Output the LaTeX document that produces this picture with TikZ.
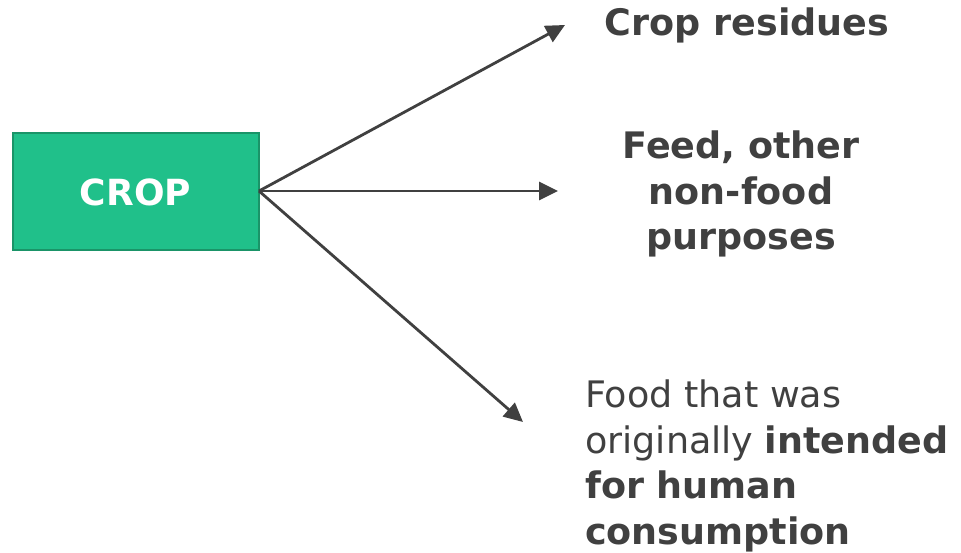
\documentclass[tikz,border=0pt]{standalone}
\usepackage{fontspec}
\setmainfont{DejaVu Sans}
\usetikzlibrary{arrows.meta, positioning}
\definecolor{cropgreen}{HTML}{20C08A}
\definecolor{cropedge}{HTML}{1A9468}
\definecolor{textgray}{HTML}{404040}

\begin{document}
\begin{tikzpicture}[
x=1pt, y=-1pt,
box/.style={rectangle, draw=cropedge, line width=2pt, fill=cropgreen, text=white, font=\fontsize{36}{44}\selectfont\bfseries, minimum width=246pt, minimum height=117pt},
label/.style={text=textgray, font=\fontsize{36.5}{45.5}\selectfont, inner sep=0pt},
line/.style={-{Triangle[length=19pt, width=18pt]}, line width=2.8pt, draw=textgray}
]
\useasboundingbox (0,0) rectangle (961,553);
\node[box] (crop) at (135.5,192) {CROP};
\coordinate (fork) at (259,191);
\coordinate (tresidue) at (565,25);
\coordinate (tfeed) at (558,191);
\coordinate (tfood) at (523,422);
\node[label, font=\fontsize{36.5}{45.5}\selectfont\bfseries] (residue) at (747,25) {Crop residues};
\node[label, font=\fontsize{36.5}{45.5}\selectfont\bfseries, align=center] (feed) at (741,194) {Feed, other\\non-food\\purposes};
\node[label, align=left, anchor=west] (food) at (585,466) {Food that was\\originally \textbf{intended}\\\textbf{for human}\\\textbf{consumption}};

\draw[line] (fork) -- (tresidue);
\draw[line] (fork) -- (tfeed);
\draw[line] (fork) -- (tfood);
\end{tikzpicture}
\end{document}
